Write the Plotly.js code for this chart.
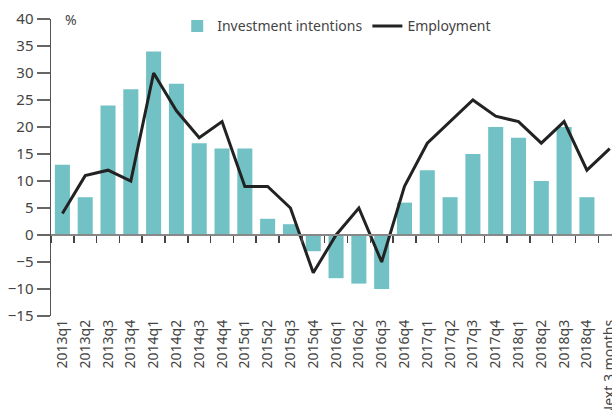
<!DOCTYPE html>
<html>
<head>
<meta charset="utf-8">
<script src="https://cdn.plot.ly/plotly-3.0.1.min.js"></script>
<style>html,body{margin:0;padding:0;background:#fff;}#chart{width:612px;height:410px;}</style>
</head>
<body>
<div id="chart"></div>
<script>
var categories = ["2013q1","2013q2","2013q3","2013q4","2014q1","2014q2","2014q3","2014q4",
  "2015q1","2015q2","2015q3","2015q4","2016q1","2016q2","2016q3","2016q4",
  "2017q1","2017q2","2017q3","2017q4","2018q1","2018q2","2018q3","2018q4","Next 3 months"];
var barCategories = categories.slice(0, 24);
var investment = [13,7,24,27,34,28,17,16,16,3,2,-3,-8,-9,-10,6,12,7,15,20,18,10,20,7];
var employment = [4,11,12,10,30,23,18,21,9,9,5,-7,0,5,-5,9,17,21,25,22,21,17,21,12,16];
var yTicks = [-15,-10,-5,0,5,10,15,20,25,30,35,40];

var fontFam = "Noto Sans, Open Sans, sans-serif";
var traces = [
  {type:"bar", x:barCategories, y:investment, name:"Investment intentions",
   marker:{color:"#72c2c5"}, xaxis:"x", yaxis:"y"},
  {type:"scatter", mode:"lines", x:categories, y:employment, name:"Employment",
   line:{color:"#222222", width:3}, xaxis:"x2", yaxis:"y"}
];
var xr = [-0.5, 24.1];
var layout = {
  width:612, height:410,
  margin:{l:51, r:0, t:19, b:94},
  paper_bgcolor:"#fff", plot_bgcolor:"#fff",
  font:{family:fontFam, color:"#444", size:14},
  bargap:0.34,
  showlegend:true,
  legend:{orientation:"h", x:0.225, xanchor:"left", y:0.975, yanchor:"middle",
          font:{size:14, color:"#444"}, bgcolor:"rgba(0,0,0,0)", traceorder:"normal"},
  xaxis:{type:"category", categoryorder:"array", categoryarray:categories, range:xr,
         showline:false, ticks:"", tickangle:-90, showgrid:false, zeroline:false,
         tickfont:{size:14, color:"#444"}, fixedrange:true},
  xaxis2:{type:"category", categoryorder:"array", categoryarray:categories, range:xr,
          overlaying:"x", anchor:"free", position:15/55, side:"bottom",
          showline:true, linecolor:"#888", linewidth:2, ticks:"outside", tickson:"boundaries",
          ticklen:7, tickcolor:"#444", tickwidth:1.5, showticklabels:false, showgrid:false, zeroline:false},
  yaxis:{range:[-15,40], tickvals:yTicks, showgrid:false, zeroline:false,
         showline:true, linecolor:"#555", linewidth:1.5, ticks:"outside", ticklen:13,
         tickcolor:"#666", tickwidth:1.5, tickfont:{size:15, color:"#444"}},
  annotations:[{text:"%", xref:"paper", yref:"paper", x:0.022, y:1.0, xanchor:"left", yanchor:"middle",
                showarrow:false, font:{size:14, color:"#444"}}]
};
Plotly.newPlot("chart", traces, layout, {displayModeBar:false, staticPlot:true});
</script>
</body>
</html>
